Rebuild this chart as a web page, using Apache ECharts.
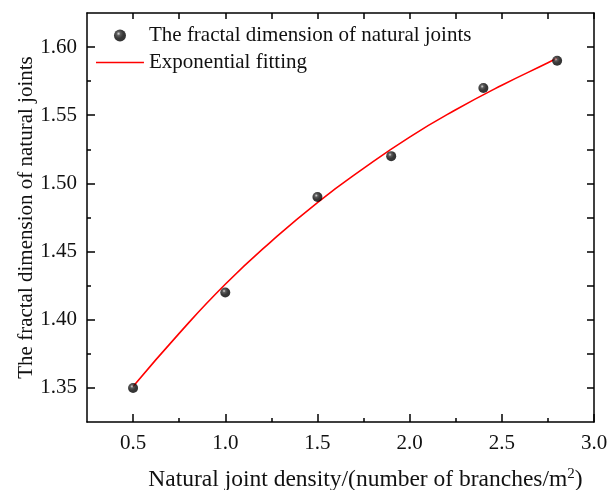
<!DOCTYPE html>
<html>
<head>
<meta charset="utf-8">
<script src="https://cdn.jsdelivr.net/npm/echarts@6/dist/echarts.min.js"></script>
<style>
  html, body { margin: 0; padding: 0; background: #fff; }
  #chart { width: 608px; height: 490px; }
</style>
</head>
<body>
<div id="chart"></div>
<script>
// Measured fractal dimension against joint density
const densities = [0.5, 1.0, 1.5, 1.9, 2.4, 2.8];
const fractalDims = [1.35, 1.42, 1.49, 1.52, 1.57, 1.59];

// Exponential fit curve, sampled along x
const fitX = [0.5, 0.75, 1.0, 1.25, 1.5, 1.75, 2.0, 2.25, 2.5, 2.75, 2.8];
const fitY = [1.351, 1.390, 1.426, 1.4575, 1.486, 1.511, 1.534, 1.554, 1.572, 1.5885, 1.592];

// Axis ticks
const xMajorTicks = [0.5, 1.0, 1.5, 2.0, 2.5, 3.0];
const xMinorTicks = [0.75, 1.25, 1.75, 2.25, 2.75];
const yMajorTicks = [1.35, 1.40, 1.45, 1.50, 1.55, 1.60];
const yMinorTicks = [1.375, 1.425, 1.475, 1.525, 1.575];

const xRange = [0.25, 3.0];
const yRange = [1.325, 1.625];

const FONT = 'Liberation Serif';
const INK = '#111';

const chart = echarts.init(document.getElementById('chart'));

const scatterData = densities.map((x, i) => [x, fractalDims[i]]);
const fitData = fitX.map((x, i) => [x, fitY[i]]);

const lineStyle = { color: '#000', width: 1.5 };

function xAxisOf(position, ticks, len, extra) {
  return Object.assign({
    type: 'value', position: position, min: xRange[0], max: xRange[1],
    axisLine: { show: true, onZero: false, lineStyle: lineStyle },
    axisTick: { show: true, inside: true, length: len, customValues: ticks, lineStyle: lineStyle },
    axisLabel: { show: false },
    splitLine: { show: false }
  }, extra || {});
}
function yAxisOf(position, ticks, len, extra) {
  return Object.assign({
    type: 'value', position: position, min: yRange[0], max: yRange[1],
    axisLine: { show: true, onZero: false, lineStyle: lineStyle },
    axisTick: { show: true, inside: true, length: len, customValues: ticks, lineStyle: lineStyle },
    axisLabel: { show: false },
    splitLine: { show: false }
  }, extra || {});
}

// Sphere-like shading for the measured points
const ballColor = {
  type: 'radial', x: 0.38, y: 0.35, r: 0.65,
  colorStops: [
    { offset: 0, color: '#d0d0d0' },
    { offset: 0.25, color: '#333' },
    { offset: 0.6, color: '#050505' },
    { offset: 1, color: '#000' }
  ]
};

// Legend icon for the fit line: a thin stroke in a 48x12 box
const lineIcon = 'path://M0,0 L48,0 L48,0.01 Z M0,5.3 L48,5.3 L48,6.8 L0,6.8 Z M0,12 L48,12 L48,12.01 Z';

const option = {
  animation: false,
  backgroundColor: '#fff',
  grid: { left: 87, top: 13, right: 14, bottom: 68, containLabel: false, outerBoundsMode: 'none' },
  legend: {
    orient: 'vertical',
    left: 91, top: 20,
    itemWidth: 48, itemHeight: 12, itemGap: 6,
    textStyle: { fontFamily: FONT, fontSize: 21, color: INK, lineHeight: 21 },
    data: [
      { name: 'The fractal dimension of natural joints', icon: 'circle' },
      { name: 'Exponential fitting', icon: lineIcon, itemStyle: { color: '#ff0000' } }
    ]
  },
  xAxis: [
    xAxisOf('bottom', xMajorTicks, 8, {
      axisLabel: {
        show: true, customValues: xMajorTicks, margin: 11,
        fontFamily: FONT, fontSize: 21, color: INK,
        formatter: v => v.toFixed(1)
      },
      name: 'Natural joint density/(number of branches/m{sup|2})',
      nameLocation: 'middle', nameGap: 45, nameMoveOverlap: false,
      nameTextStyle: {
        fontFamily: FONT, fontSize: 23.5, color: INK, padding: [0, 0, 0, 50],
        rich: { sup: { fontFamily: FONT, fontSize: 15, color: INK, padding: [0, 0, 10, 0] } }
      }
    }),
    xAxisOf('bottom', xMinorTicks, 4, { axisLine: { show: false } }),
    xAxisOf('top', xMajorTicks.concat(xMinorTicks), 6)
  ],
  yAxis: [
    yAxisOf('left', yMajorTicks, 8, {
      axisLabel: {
        show: true, customValues: yMajorTicks, margin: 10,
        fontFamily: FONT, fontSize: 21, color: INK,
        formatter: v => v.toFixed(2)
      },
      name: 'The fractal dimension of natural joints',
      nameLocation: 'middle', nameGap: 50, nameRotate: 90, nameMoveOverlap: false,
      nameTextStyle: { fontFamily: FONT, fontSize: 21, color: INK }
    }),
    yAxisOf('left', yMinorTicks, 4, { axisLine: { show: false } }),
    yAxisOf('right', yMajorTicks.concat(yMinorTicks), 7)
  ],
  series: [
    {
      name: 'Exponential fitting',
      type: 'line',
      data: fitData,
      smooth: true,
      showSymbol: false,
      symbol: 'none',
      lineStyle: { color: '#ff0000', width: 1.6 },
      itemStyle: { color: '#ff0000' },
      z: 2
    },
    {
      name: 'The fractal dimension of natural joints',
      type: 'scatter',
      data: scatterData,
      symbol: 'circle',
      symbolSize: 10,
      itemStyle: { color: ballColor },
      z: 3
    }
  ]
};

chart.setOption(option);
</script>
</body>
</html>
